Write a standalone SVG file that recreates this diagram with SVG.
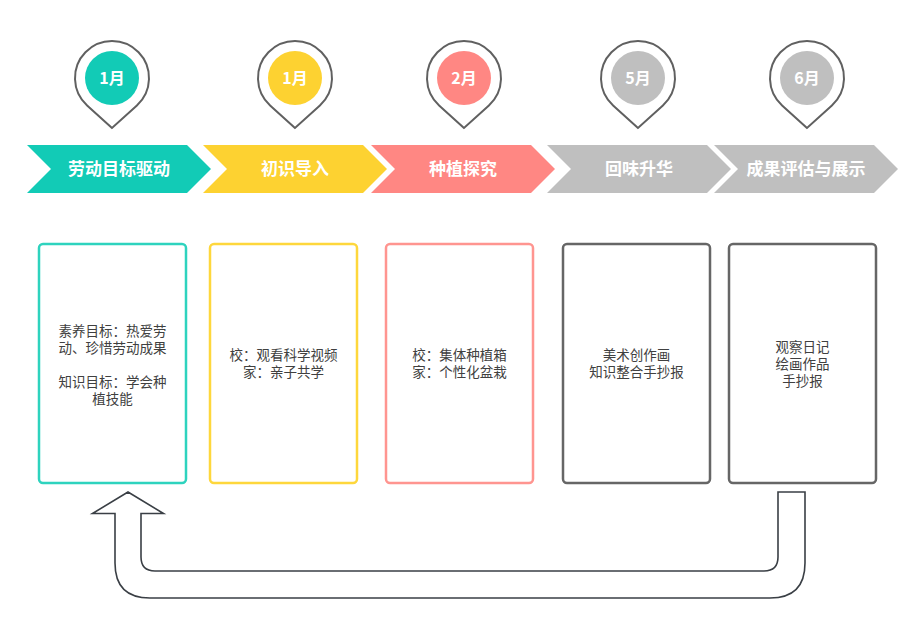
<svg xmlns="http://www.w3.org/2000/svg" width="923" height="625" viewBox="0 0 923 625">
<style>
text{font-family:"Noto Sans CJK SC","Noto Sans",sans-serif;text-anchor:middle}
.pin{fill:#fff;stroke:#606060;stroke-width:2}
.mon{fill:#fff;font-size:16px;font-weight:bold}
.chev{font-size:17px;font-weight:bold;fill:#fff}
.box{fill:#fff;stroke-width:2.5}
.bt{font-size:13.5px;fill:#404040}
.teal{fill:#12CBB6}.yel{fill:#FDD231}.sal{fill:#FF8783}.gry{fill:#BFBFBF}
</style>
<rect width="923" height="625" fill="#fff"/>
<defs>
<path id="pinshape" d="M0,128 L-24.9,105.4 A37,37 0 1 1 24.9,105.4 Z"/>
<path id="chevshape" d="M0,145 L160,145 L184,169 L160,193 L0,193 L24,169 Z"/>
</defs>

<g id="step1">
<use href="#pinshape" x="112" class="pin"/>
<circle cx="112" cy="78" r="27" class="teal"/>
<text x="112" y="84" class="mon">1月</text>
<use href="#chevshape" x="27" class="teal"/>
<text x="119" y="175" class="chev">劳动目标驱动</text>
<rect x="39" y="244" width="147" height="239" rx="4" class="box" stroke="#2ED3BE"/>
<text class="bt"><tspan x="112.5" y="336">素养目标：热爱劳</tspan><tspan x="112.5" y="353">动、珍惜劳动成果</tspan><tspan x="112.5" y="387">知识目标：学会种</tspan><tspan x="112.5" y="404">植技能</tspan></text>
</g>

<g id="step2">
<use href="#pinshape" x="295" class="pin"/>
<circle cx="295" cy="78" r="27" class="yel"/>
<text x="295" y="84" class="mon">1月</text>
<use href="#chevshape" x="203" class="yel"/>
<text x="295" y="175" class="chev">初识导入</text>
<rect x="210" y="244" width="147" height="239" rx="4" class="box" stroke="#FED73C"/>
<text class="bt"><tspan x="283.5" y="360">校：观看科学视频</tspan><tspan x="283.5" y="377">家：亲子共学</tspan></text>
</g>

<g id="step3">
<use href="#pinshape" x="464" class="pin"/>
<circle cx="464" cy="78" r="27" class="sal"/>
<text x="464" y="84" class="mon">2月</text>
<use href="#chevshape" x="371" class="sal"/>
<text x="463" y="175" class="chev">种植探究</text>
<rect x="386" y="244" width="147" height="239" rx="4" class="box" stroke="#FF9590"/>
<text class="bt"><tspan x="459.5" y="360">校：集体种植箱</tspan><tspan x="459.5" y="377">家：个性化盆栽</tspan></text>
</g>

<g id="step4">
<use href="#pinshape" x="638" class="pin"/>
<circle cx="638" cy="78" r="27" class="gry"/>
<text x="638" y="84" class="mon">5月</text>
<use href="#chevshape" x="547" class="gry"/>
<text x="639" y="175" class="chev">回味升华</text>
<rect x="563" y="244" width="147" height="239" rx="4" class="box" stroke="#666"/>
<text class="bt"><tspan x="636.5" y="360">美术创作画</tspan><tspan x="636.5" y="377">知识整合手抄报</tspan></text>
</g>

<g id="step5">
<use href="#pinshape" x="807" class="pin"/>
<circle cx="807" cy="78" r="27" class="gry"/>
<text x="807" y="84" class="mon">6月</text>
<use href="#chevshape" x="714" class="gry"/>
<text x="806" y="175" class="chev">成果评估与展示</text>
<rect x="729" y="244" width="147" height="239" rx="4" class="box" stroke="#666"/>
<text class="bt"><tspan x="802.5" y="352">观察日记</tspan><tspan x="802.5" y="369">绘画作品</tspan><tspan x="802.5" y="386">手抄报</tspan></text>
</g>

<g id="connectors">
<path d="M128,492 L163.5,513.5 L141,513.5 L141,557 Q141,571 155,571 L764,571 Q778,571 778,557 L778,492 L805,492 L805,563 Q805,598 770,598 L150,598 Q115,598 115,563 L115,513.5 L92.5,513.5 Z" fill="#fff" stroke="#3A3F45" stroke-width="1.6" stroke-linejoin="miter"/>
</g>
</svg>
